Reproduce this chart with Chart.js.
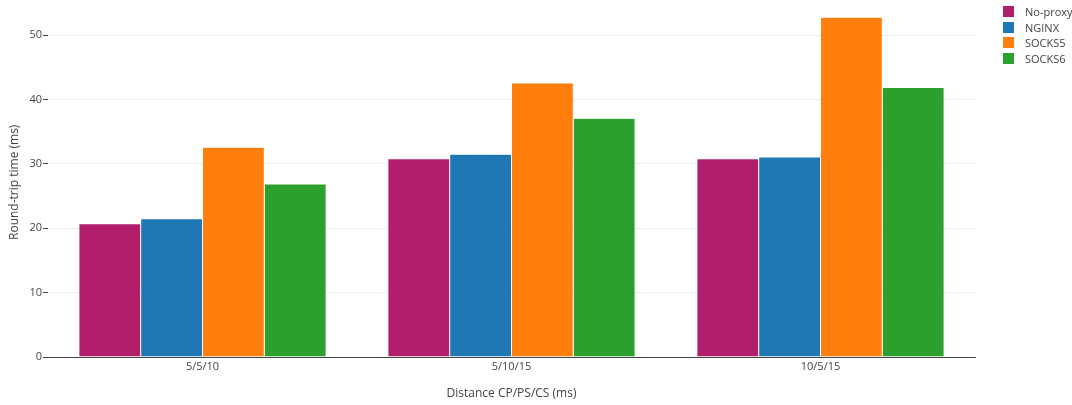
<!DOCTYPE html>
<html>
<head>
<meta charset="utf-8">
<script src="https://cdn.jsdelivr.net/npm/chart.js@4/dist/chart.umd.min.js"></script>
<style>
  html, body { margin: 0; padding: 0; background: #fff; }
  #wrap { position: relative; width: 1072px; height: 405px; }
  #legend { position: absolute; left: 1003px; top: 4px; font-family: "Open Sans", sans-serif; font-size: 11px; color: #444; white-space: nowrap; }
  #legend div { height: 15.5px; display: flex; align-items: center; }
  #legend span.sw { display: inline-block; width: 11px; height: 11px; margin-right: 11px; }
</style>
</head>
<body>
<div id="wrap">
  <canvas id="c" width="1072" height="405"></canvas>
  <div id="legend"></div>
</div>
<script>
const categories = ["5/5/10", "5/10/15", "10/5/15"];
const seriesNames = ["No-proxy", "NGINX", "SOCKS5", "SOCKS6"];
const noProxy = [20.7, 30.8, 30.8];
const nginx = [21.5, 31.5, 31.1];
const socks5 = [32.6, 42.6, 52.8];
const socks6 = [26.9, 37.1, 41.9];
const yTicks = [0, 10, 20, 30, 40, 50];
const colors = ["#b11e6b", "#1f77b4", "#ff7f0e", "#2ca02c"];
const values = [noProxy, nginx, socks5, socks6];

const FONT = "'Open Sans', sans-serif";
const datasets = seriesNames.map((n, i) => ({
  label: n,
  data: values[i],
  backgroundColor: colors[i],
  borderColor: "rgba(255,255,255,0.35)",
  borderWidth: 0.5,
  borderSkipped: "bottom",
  categoryPercentage: 0.8,
  barPercentage: 1.0
}));

const leg = document.getElementById("legend");
seriesNames.forEach((n, i) => {
  const d = document.createElement("div");
  d.innerHTML = '<span class="sw" style="background:' + colors[i] + '"></span>' + n;
  leg.appendChild(d);
});

new Chart(document.getElementById("c"), {
  type: "bar",
  data: { labels: categories, datasets },
  options: {
    responsive: false,
    animation: false,
    layout: { padding: { left: 3, right: 97, top: 0, bottom: 0 } },
    plugins: { legend: { display: false }, tooltip: { enabled: false } },
    scales: {
      x: {
        grid: { display: false, drawTicks: false },
        border: { display: true, color: "#444", width: 1 },
        ticks: { color: "#444", font: { family: FONT, size: 11 }, padding: 3 },
        title: { display: true, text: "Distance CP/PS/CS (ms)", color: "#444", font: { family: FONT, size: 12 }, padding: { top: 13 } },
        afterFit: s => { s.height = 48; }
      },
      y: {
        min: 0,
        max: 54.3,
        afterBuildTicks: s => { s.ticks = yTicks.map(v => ({ value: v })); },
        grid: {
          color: c => c.tick && c.tick.value === 0 ? "#444" : "#eeeeee",
          tickColor: "#444",
          tickLength: 5,
          drawTicks: true
        },
        border: { display: false },
        ticks: { color: "#444", font: { family: FONT, size: 11 }, padding: 1 },
        title: { display: true, text: "Round-trip time (ms)", color: "#444", font: { family: FONT, size: 12 }, padding: { bottom: 4 } },
        afterFit: s => { s.width = 45; }
      }
    }
  }
});
</script>
</body>
</html>
